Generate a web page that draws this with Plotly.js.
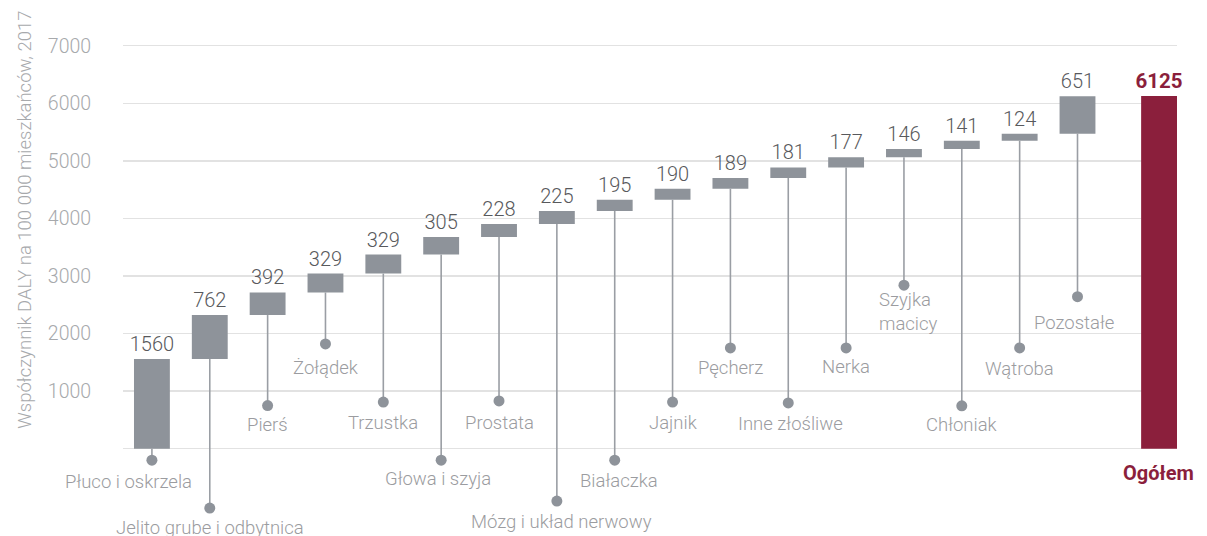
<!DOCTYPE html>
<html>
<head>
<meta charset="utf-8">
<script src="https://cdn.plot.ly/plotly-3.0.1.min.js"></script>
<style>html,body{margin:0;padding:0;background:#fff;}#chart{width:1207px;height:536px;}</style>
</head>
<body>
<div id="chart"></div>
<script>
// ---- data ----
const categories = ["Płuco i oskrzela","Jelito grube i odbytnica","Pierś","Żołądek","Trzustka","Głowa i szyja","Prostata","Mózg i układ nerwowy","Białaczka","Jajnik","Pęcherz","Inne złośliwe","Nerka","Szyjka<br>macicy","Chłoniak","Wątroba","Pozostałe"];
const values = [1560, 762, 392, 329, 329, 305, 228, 225, 195, 190, 189, 181, 177, 146, 141, 124, 651];
const totalLabel = "Ogółem";
const totalValue = 6125;
const yTicks = [0, 1000, 2000, 3000, 4000, 5000, 6000, 7000];
const yTickText = ["", "1000", "2000", "3000", "4000", "5000", "6000", "7000"];
const yTitle = "Współczynnik DALY na 100 000 mieszkańców, 2017";

// ---- layout helpers (positions of leader dots, label offsets) ----
const dotY = [-200, -1030, 750, 1820, 810, -200, 830, -910, -200, 810, 1750, 795, 1750, 2840, 745, 1750, 2640];
const labelDx = [-23, 0, 0, 0, 0, -3, 0, 5, 4, 0, 0, 2, 0, 5, 0, 0, -4];
const labelDy = [-22, -20, -19, -24, -21, -19, -22, -21, -21, -21, -20, -21, -19, -27, -19, -21, -26];
const totalX = 17.41;

const GRAY = "#8e939a";
const RED = "#8b1f3c";
const FONT = "Roboto, 'Open Sans', sans-serif";

const xs = categories.map((_, i) => i);
const bases = [];
let run = 0;
values.forEach(v => { bases.push(run); run += v; });

// leader lines
const lx = [], ly = [];
xs.forEach((x, i) => { lx.push(x, x, null); ly.push(bases[i], dotY[i], null); });

const traces = [
  {
    type: "scatter", mode: "lines", x: lx, y: ly,
    line: {color: "#9a9ea4", width: 1.6}, hoverinfo: "skip", showlegend: false
  },
  {
    type: "bar", x: xs, y: values, base: bases, width: 0.62,
    marker: {color: GRAY, line: {width: 0}},
    text: values.map(String), textposition: "outside", constraintext: "none", cliponaxis: false,
    textfont: {family: FONT, size: 20, color: "#58595c", weight: 300},
    showlegend: false, hoverinfo: "skip"
  },
  {
    type: "bar", x: [totalX], y: [totalValue], width: 0.62,
    marker: {color: RED, line: {width: 0}},
    text: [String(totalValue)], textposition: "outside", constraintext: "none", cliponaxis: false,
    textfont: {family: FONT, size: 20.5, color: RED, weight: 700},
    showlegend: false, hoverinfo: "skip"
  },
  {
    type: "scatter", mode: "markers", x: xs, y: dotY,
    marker: {color: GRAY, size: 11}, hoverinfo: "skip", showlegend: false, cliponaxis: false
  }
];

const annotations = categories.map((c, i) => ({
  x: xs[i], y: dotY[i], xref: "x", yref: "y", text: c, showarrow: false,
  xanchor: "center", yanchor: "middle", xshift: labelDx[i], yshift: labelDy[i],
  align: i === 13 ? "left" : "center",
  font: {family: FONT, size: 18.5, color: "#9b9ca0", weight: 300}
}));
annotations.push({
  x: totalX, y: 0, xref: "x", yref: "y", text: "<b>" + totalLabel + "</b>", showarrow: false,
  xanchor: "center", yanchor: "middle", yshift: -24, xshift: -1,
  font: {family: FONT, size: 20, color: RED}
});
annotations.push({
  x: -0.093, xref: "paper", y: 0.59, yref: "paper", text: yTitle, textangle: -90,
  showarrow: false, xanchor: "center", yanchor: "middle",
  font: {family: FONT, size: 18.5, color: "#a7a9ac", weight: 300}
});

const layout = {
  width: 1207, height: 536,
  margin: {l: 123, r: 30, t: 0, b: 0},
  paper_bgcolor: "#fff", plot_bgcolor: "#fff",
  barmode: "overlay",
  showlegend: false,
  font: {family: FONT},
  xaxis: {range: [-0.5, 17.72], showgrid: false, zeroline: false, showticklabels: false, ticks: "", fixedrange: true},
  yaxis: {
    range: [-1516, 7794], tickvals: yTicks, ticktext: yTickText,
    showgrid: true, gridcolor: "#e2e2e2", gridwidth: 1.5, zeroline: false,
    ticks: "outside", ticklen: 27, tickcolor: "rgba(0,0,0,0)",
    tickfont: {family: FONT, size: 19.5, color: "#a7a9ac", weight: 300},
    showline: false
  },
  annotations: annotations
};

Plotly.newPlot("chart", traces, layout, {displayModeBar: false, staticPlot: true});
</script>
</body>
</html>
